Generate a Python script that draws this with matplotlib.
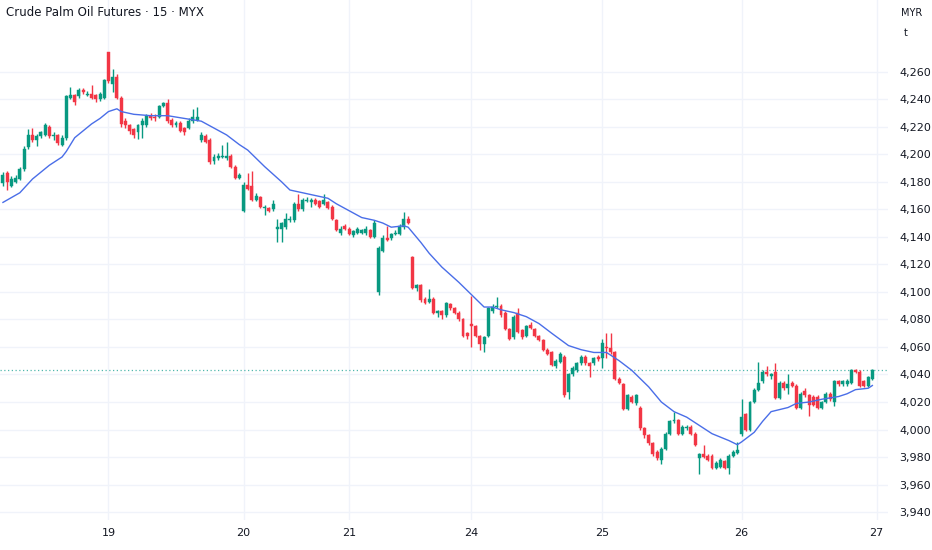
import matplotlib
matplotlib.use('Agg')
import matplotlib.pyplot as plt
import numpy as np
from matplotlib.ticker import FuncFormatter

# 15 min candles (open, high, low, close)
opens = [4179, 4186, 4177, 4180, 4182, 4189, 4205, 4214, 4210, 4213, 4214, 4220, 4213, 4214, 4207, 4212, 4241, 4243, 4242, 4247,
         4243, 4244, 4243, 4240, 4241, 4274, 4251, 4256, 4241, 4224, 4221, 4218, 4216, 4221, 4221, 4228, 4227, 4227, 4235, 4237,
         4225, 4221, 4223, 4219, 4219, 4224, 4225, 4210, 4213, 4210, 4195, 4197, 4198, 4197, 4199, 4191, 4183, 4159, 4178, 4177,
         4167, 4169, 4161, 4161, 4160, 4146, 4146, 4147, 4152, 4152, 4164, 4160, 4166, 4165, 4167, 4166, 4164, 4165, 4162, 4152,
         4143, 4148, 4146, 4141, 4143, 4143, 4143, 4145, 4140, 4100, 4130, 4139, 4139, 4142, 4142, 4147, 4153, 4125, 4103, 4105,
         4095, 4093, 4095, 4085, 4086, 4083, 4091, 4088, 4085, 4080, 4070, 4077, 4075, 4068, 4062, 4068, 4086, 4089, 4090, 4085,
         4073, 4067, 4085, 4072, 4068, 4076, 4073, 4068, 4065, 4058, 4056, 4046, 4049, 4053, 4027, 4040, 4043, 4048, 4053, 4048,
         4048, 4053, 4052, 4060, 4059, 4056, 4037, 4033, 4015, 4024, 4019, 4016, 4001, 3996, 3990, 3984, 3978, 3986, 3997, 4006,
         4007, 3997, 4001, 4002, 3997, 3979, 3982, 3981, 3981, 3972, 3973, 3977, 3972, 3981, 3983, 3997, 4011, 4000, 4020, 4029,
         4035, 4042, 4039, 4042, 4023, 4034, 4030, 4034, 4032, 4016, 4028, 4025, 4024, 4024, 4016, 4020, 4026, 4020, 4035, 4033,
         4033, 4034, 4043, 4042, 4035, 4032, 4037]
highs = [4187, 4188, 4184, 4185, 4191, 4206, 4218, 4219, 4215, 4217, 4223, 4221, 4216, 4215, 4214, 4243, 4249, 4244, 4248, 4248,
         4246, 4250, 4244, 4245, 4255, 4274, 4262, 4258, 4242, 4226, 4222, 4219, 4222, 4226, 4229, 4230, 4229, 4236, 4238, 4240,
         4226, 4224, 4224, 4220, 4226, 4233, 4234, 4216, 4215, 4212, 4200, 4201, 4207, 4209, 4200, 4192, 4186, 4180, 4186, 4188,
         4172, 4170, 4163, 4162, 4167, 4153, 4151, 4157, 4155, 4165, 4171, 4168, 4169, 4168, 4168, 4167, 4171, 4166, 4163, 4153,
         4148, 4149, 4147, 4145, 4147, 4146, 4148, 4146, 4152, 4133, 4141, 4148, 4143, 4145, 4149, 4158, 4155, 4126, 4106, 4106,
         4096, 4102, 4096, 4087, 4087, 4093, 4092, 4089, 4086, 4081, 4071, 4097, 4076, 4069, 4068, 4089, 4091, 4096, 4091, 4086,
         4074, 4083, 4088, 4073, 4076, 4078, 4074, 4069, 4066, 4059, 4057, 4051, 4056, 4054, 4041, 4046, 4049, 4054, 4054, 4049,
         4053, 4054, 4066, 4070, 4070, 4057, 4038, 4034, 4026, 4025, 4026, 4017, 4002, 3997, 3991, 3985, 3987, 3998, 4007, 4013,
         4008, 4003, 4003, 4003, 3998, 3983, 3989, 3982, 3982, 3977, 3979, 3978, 3982, 3985, 3991, 4022, 4012, 4021, 4030, 4049,
         4043, 4046, 4041, 4048, 4035, 4035, 4040, 4035, 4033, 4027, 4030, 4026, 4025, 4025, 4021, 4027, 4027, 4036, 4036, 4036,
         4037, 4044, 4044, 4043, 4036, 4039, 4044]
lows = [4177, 4174, 4176, 4179, 4181, 4188, 4204, 4209, 4206, 4212, 4213, 4212, 4210, 4207, 4206, 4210, 4240, 4236, 4241, 4244,
        4242, 4240, 4238, 4239, 4240, 4252, 4245, 4240, 4220, 4219, 4215, 4212, 4211, 4212, 4220, 4225, 4224, 4226, 4234, 4223,
        4220, 4220, 4216, 4214, 4218, 4223, 4224, 4209, 4208, 4193, 4193, 4196, 4197, 4196, 4190, 4182, 4182, 4158, 4174, 4166,
        4166, 4161, 4156, 4158, 4159, 4136, 4136, 4146, 4151, 4151, 4159, 4159, 4165, 4162, 4163, 4161, 4163, 4160, 4152, 4144,
        4141, 4145, 4141, 4140, 4142, 4142, 4141, 4139, 4139, 4098, 4129, 4137, 4138, 4141, 4141, 4146, 4149, 4102, 4101, 4093,
        4091, 4092, 4084, 4082, 4080, 4082, 4087, 4084, 4079, 4067, 4066, 4060, 4067, 4058, 4056, 4067, 4085, 4088, 4082, 4072,
        4065, 4066, 4070, 4066, 4067, 4073, 4067, 4064, 4057, 4054, 4046, 4045, 4048, 4024, 4022, 4039, 4042, 4047, 4047, 4038,
        4047, 4050, 4045, 4052, 4055, 4036, 4033, 4014, 4014, 4019, 4018, 4000, 3994, 3989, 3981, 3978, 3975, 3985, 3996, 4005,
        3996, 3996, 4000, 3996, 3988, 3968, 3979, 3977, 3971, 3971, 3972, 3971, 3968, 3980, 3982, 3995, 3999, 3999, 4019, 4028,
        4034, 4039, 4037, 4022, 4022, 4029, 4026, 4031, 4015, 4015, 4024, 4010, 4017, 4015, 4015, 4019, 4021, 4017, 4032, 4032,
        4032, 4033, 4041, 4031, 4031, 4031, 4036]
closes = [4185, 4180, 4182, 4183, 4189, 4204, 4214, 4210, 4213, 4216, 4221, 4213, 4214, 4208, 4212, 4242, 4243, 4238, 4247, 4245,
          4244, 4241, 4240, 4244, 4254, 4253, 4256, 4241, 4222, 4221, 4217, 4214, 4221, 4224, 4228, 4226, 4226, 4235, 4237, 4224,
          4221, 4223, 4217, 4216, 4224, 4227, 4227, 4214, 4209, 4194, 4198, 4199, 4199, 4199, 4191, 4183, 4185, 4178, 4175, 4167,
          4170, 4162, 4162, 4159, 4164, 4147, 4150, 4153, 4153, 4164, 4160, 4167, 4167, 4167, 4164, 4162, 4167, 4161, 4153, 4145,
          4146, 4146, 4142, 4144, 4146, 4145, 4146, 4140, 4150, 4132, 4139, 4138, 4142, 4143, 4148, 4153, 4150, 4103, 4105, 4094,
          4092, 4095, 4085, 4086, 4083, 4092, 4088, 4085, 4080, 4068, 4068, 4075, 4068, 4062, 4067, 4088, 4089, 4090, 4083, 4073,
          4066, 4082, 4071, 4067, 4075, 4074, 4068, 4065, 4058, 4055, 4047, 4050, 4055, 4025, 4040, 4045, 4048, 4053, 4048, 4046,
          4052, 4051, 4063, 4059, 4056, 4037, 4034, 4015, 4025, 4020, 4025, 4001, 3996, 3990, 3982, 3979, 3986, 3997, 4006, 4007,
          3997, 4002, 4002, 3997, 3989, 3982, 3980, 3978, 3972, 3976, 3978, 3972, 3981, 3984, 3985, 4009, 4000, 4020, 4029, 4034,
          4042, 4040, 4040, 4023, 4034, 4030, 4033, 4032, 4016, 4026, 4025, 4018, 4018, 4016, 4020, 4026, 4022, 4035, 4033, 4035,
          4035, 4043, 4042, 4032, 4032, 4038, 4043]

# moving average line, read at some bar positions
ma_idx = [0, 4, 7, 11, 14, 15, 17, 19, 21, 23, 25, 27, 28, 31, 35, 39, 43, 47, 50, 53, 56, 58, 62, 66, 68, 71, 74, 77, 79,
          82, 85, 88, 90, 92, 95, 96, 99, 101, 104, 108, 111, 114, 116, 118, 121, 124, 127, 130, 134, 137, 140, 143, 146,
          149, 153, 156, 159, 162, 165, 168, 172, 174, 175, 178, 180, 182, 186, 188, 191, 194, 198, 200, 202, 205, 206]
ma_val = [4165, 4172, 4182, 4192, 4198, 4202, 4212, 4217, 4222, 4226, 4231, 4233, 4231, 4229, 4228, 4228, 4226, 4224, 4219,
          4214, 4207, 4203, 4191, 4180, 4174, 4172, 4170, 4168, 4164, 4159, 4154, 4152, 4150, 4147, 4148, 4147, 4136, 4128,
          4118, 4107, 4098, 4089, 4089, 4087, 4085, 4082, 4077, 4070, 4061, 4058, 4056, 4056, 4050, 4043, 4031, 4020, 4013,
          4009, 4003, 3997, 3992, 3989, 3991, 3998, 4006, 4013, 4016, 4019, 4020, 4022, 4024, 4026, 4029, 4030, 4032]

day_pos = [25, 57, 82, 111, 142, 175, 207]
day_labels = ['19', '20', '21', '24', '25', '26', '27']
price_ticks = list(range(3940, 4261, 20))

UP = '#089981'
DOWN = '#f23645'
TXT = '#131722'
GRID = '#f0f3fa'

fig = plt.figure(figsize=(9.32, 5.5), dpi=100)
ax = fig.add_axes([0, 30 / 550, 888 / 932, 520 / 550])

o = np.array(opens, float)
h = np.array(highs, float)
l = np.array(lows, float)
c = np.array(closes, float)
x = np.arange(len(o))
up = c >= o
cols = np.where(up, UP, DOWN)

ax.vlines(x, l, h, colors=cols, linewidth=1.0, zorder=3)
body_lo = np.minimum(o, c)
body_h = np.maximum(np.abs(c - o), 0.7)
ax.bar(x, body_h, bottom=body_lo, width=0.7, color=cols, edgecolor=cols, linewidth=0.3, zorder=4)

ax.plot(ma_idx, ma_val, color='#4a6ee8', linewidth=1.0, zorder=5)

# last price line
ax.axhline(closes[-1], color='#26a69a', linestyle=(0, (1, 2)), linewidth=0.9, alpha=0.8, zorder=2)

ax.set_xlim(-0.7, 209.7)
ax.set_ylim(3934.3, 4260 + 73 / 1.403)

ax.set_yticks(price_ticks)
ax.yaxis.set_major_formatter(FuncFormatter(lambda v, p: f'{int(v):,}'))
ax.yaxis.tick_right()
ax.set_xticks(day_pos)
ax.set_xticklabels(day_labels)
ax.tick_params(axis='both', length=0, labelsize=8, colors=TXT)
ax.tick_params(axis='y', pad=8)
ax.tick_params(axis='x', pad=6)
ax.grid(True, color=GRID, linewidth=1.0, zorder=0)
ax.set_axisbelow(True)
for s in ax.spines.values():
    s.set_visible(False)

fig.text(6 / 932, 1 - 13 / 550, 'Crude Palm Oil Futures · 15 · MYX', fontsize=8.5, color=TXT,
         va='center', ha='left', fontweight='medium')
fig.text(912 / 932, 1 - 13 / 550, 'MYR', fontsize=7, color=TXT, ha='center', va='center')
fig.text(906 / 932, 1 - 33 / 550, 't', fontsize=7, color=TXT, ha='center', va='center')

fig.savefig('out.png', dpi=100, facecolor='white')
